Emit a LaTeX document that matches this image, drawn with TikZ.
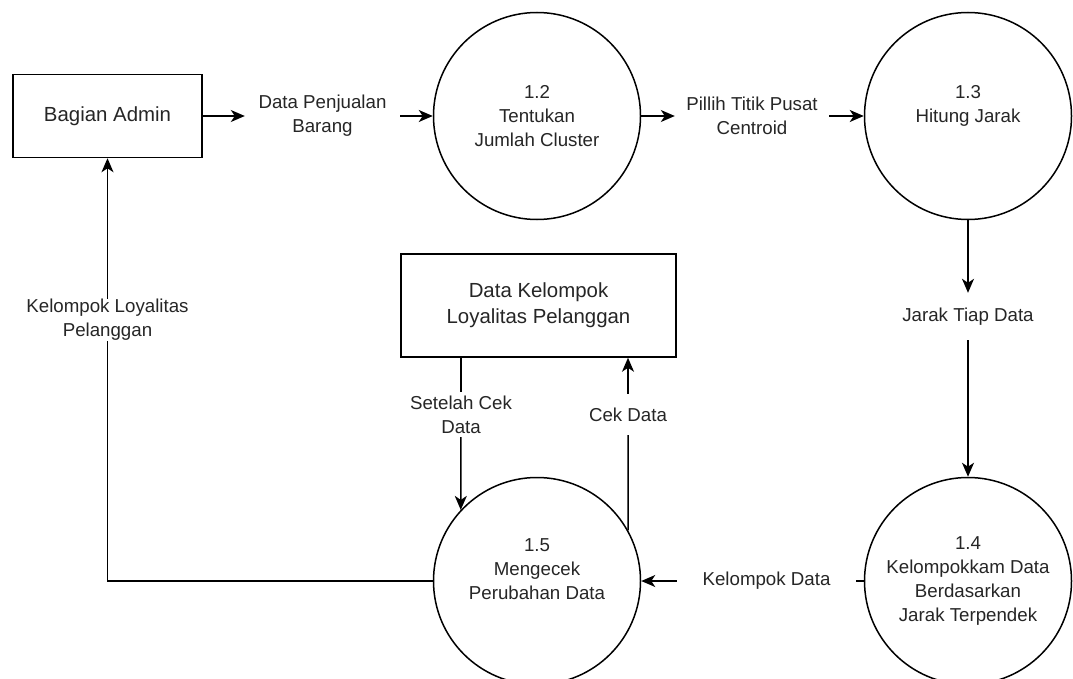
\documentclass[tikz,border=0pt]{standalone}
\usepackage{fontspec}
\setmainfont{Liberation Sans}
\usetikzlibrary{arrows.meta}
\newcommand\fsmall{\fontsize{18.7}{24}\selectfont}
\newcommand\fbig{\fontsize{20.4}{26}\selectfont}
\tikzset{
  proc/.style={circle, draw, line width=1.5pt, minimum size=207pt, inner sep=0pt, font=\fsmall, align=center, text=black!85},
  ent/.style={rectangle, draw, line width=1.5pt, inner sep=0pt, font=\fbig, align=center, text=black!85},
  lbl/.style={inner sep=0pt, font=\fsmall, align=center, text=black!85},
  flow/.style={line width=1.5pt, -{Stealth[length=14pt,width=12pt,inset=4pt]}},
  plain/.style={line width=1.5pt},
}
\begin{document}
\begin{tikzpicture}[x=1pt,y=-1pt]
\useasboundingbox (0,0) rectangle (1073,679);
\fill[white] (0,0) rectangle (1073,679);

% nodes
\node[ent, minimum width=189pt, minimum height=83pt] (admin) at (107.5,116) {Bagian Admin};
\node[proc] (p12) at (537,116) {1.2\\Tentukan\\Jumlah Cluster};
\node[proc] (p13) at (968,116) {1.3\\Hitung Jarak\\\phantom{X}};
\node[proc] (p14) at (968,581) {1.4\\Kelompokkam Data\\Berdasarkan\\Jarak Terpendek};
\node[proc] (p15) at (537,581) {1.5\\Mengecek\\Perubahan Data\\\phantom{X}};
\node[ent, minimum width=275pt, minimum height=103pt] (store) at (538.5,305.5) {Data Kelompok\\Loyalitas Pelanggan};

% flow labels
\node[lbl, minimum width=155pt] (l1) at (322.5,116) {Data Penjualan\\Barang};
\node[lbl, minimum width=154pt] (l2) at (752,116) {Pillih Titik Pusat\\Centroid};
\node[lbl, minimum height=47pt] (l3) at (968,316.5) {Jarak Tiap Data};
\node[lbl, minimum width=179pt] (l4) at (766.5,581) {Kelompok Data};
\node[lbl, minimum height=45pt] (l5) at (461,414.5) {Setelah Cek\\Data};
\node[lbl, minimum height=41pt] (l6) at (628,414.5) {Cek Data};

% connectors
\draw[flow] (admin) -- (l1);
\draw[flow] (l1) -- (p12);
\draw[flow] (p12) -- (l2);
\draw[flow] (l2) -- (p13);
\draw[flow] (p13) -- (l3);
\draw[flow] (l3) -- (p14);
\draw[plain] (p14) -- (l4);
\draw[flow] (l4) -- (p15);
\draw[plain] (store.south -| l5) -- (l5);
\draw[flow] (l5) -- (p15.137);
\draw[plain] (p15.29) -- (l6);
\draw[flow] (l6) -- (l6 |- store.south);
\draw[flow] (p15.west) -| (admin.south);

\node[lbl, fill=white] (l7) at (107.5,320) {Kelompok Loyalitas\\Pelanggan};
\end{tikzpicture}
\end{document}
